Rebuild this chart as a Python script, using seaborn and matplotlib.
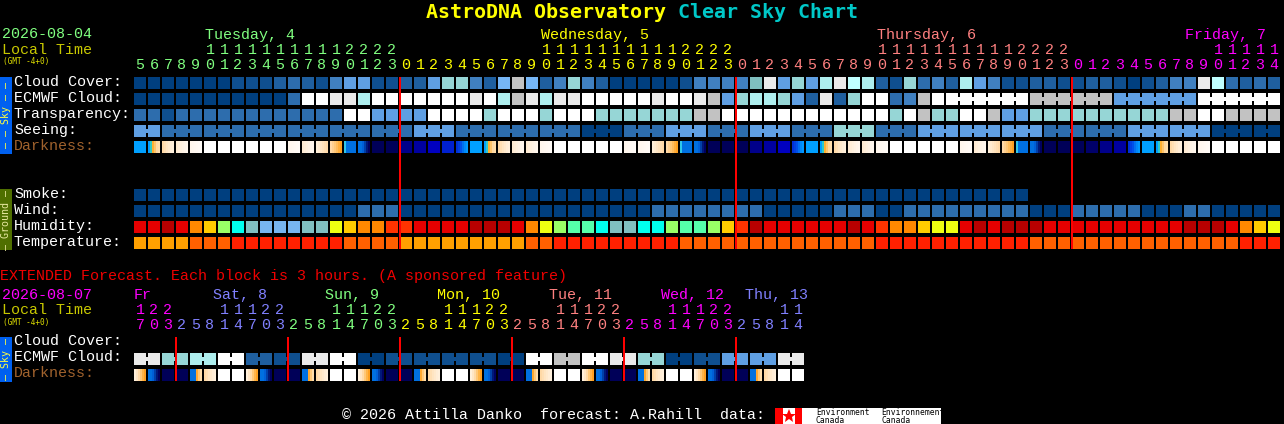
import numpy as np
import matplotlib
matplotlib.use('Agg')
import matplotlib.pyplot as plt
import seaborn as sns
from matplotlib.colors import ListedColormap
from matplotlib.patches import Rectangle

W, H = 1284, 424
FONT = 'Liberation Mono'
TITLE_FONT = 'DejaVu Sans Mono'

# sky levels, navy = clear ... white = overcast, last one grey
LEVELS = ['#003F7F', '#0F4F8F', '#1F5F9F', '#2D6DAD', '#4080C0', '#5F9FE3', '#76B6F6',
          '#7FBFBF', '#96D6D6', '#AEEEEE', '#BFFFFF', '#EAEAEA', '#FFFFFF', '#C2C2C2']
HUMID = {'D': '#B80000', 'E': '#E60000', 'R': '#FF3300', 'O': '#FF8800', 'A': '#FFCC00',
         'Y': '#EEFF11', 'G': '#99FF66', 'M': '#55FFAA', 'C': '#00FFEE', 'T': '#80C0C0', 'L': '#77B5F0'}
TEMP = {'A': '#FFA000', 'O': '#FF6000', 'R': '#FF2000'}
DARK = {
    'a': ['#00A0FF'] * 6,
    'b': ['#00A0FF', '#30C8C8', '#FFB030', '#FFC46A', '#FFD8A0', '#FFDDAA'],
    'c': ['#FFD9A6', '#FFDFB4', '#FFE5C2', '#FFE9CC', '#FFEDD6', '#FFF0DC'],
    'd': ['#FFEBD2', '#FFEED9', '#FFF1DF', '#FFF3E5', '#FFF5EA', '#FFF7EE'],
    'e': ['#FFF6EC', '#FFF7EF', '#FFF8F1', '#FFF9F3', '#FFFAF5', '#FFFBF7'],
    'W': ['#FFFFFF'] * 6,
    'f': ['#FFEFD9', '#FFEBD0', '#FFE6C6', '#FFE2BC', '#FFDDB2', '#FFD9A8'],
    'g': ['#FFD9A8', '#FFD090', '#FFC878', '#FFBC5C', '#FFAE3C', '#FFA020'],
    'h': ['#30C8E8', '#0070E0', '#0070E0', '#0070E0', '#0070E0', '#0070E0'],
    'i': ['#0070E0', '#0070E0', '#0060D8', '#0040A8', '#001878', '#000060'],
    'j': ['#000058'] * 6,
    'k': ['#00006A'] * 6,
    'l': ['#00008A'] * 6,
    'm': ['#0000A0'] * 6,
    'n': ['#0000C0'] * 6,
    'o': ['#0020D0'] * 6,
    'p': ['#0030D8', '#0040E0', '#0050E8', '#0070F0', '#0088F8', '#0098FF'],
    's': ['#FFF0DC', '#FFE6C6', '#FFDAA8', '#FFC878', '#FFB448', '#FFA020'],
    'u': ['#0070E0', '#0070E0', '#0070E0', '#FFA830', '#FFC878', '#FFDDAA'],
}

# hourly rows
cloud_cover = [0, 0, 0, 0, 0, 0, 0, 1, 1, 1, 2, 3, 2, 1, 4, 5, 5, 1, 1, 2, 2,
               5, 8, 8, 4, 2, 6, 13, 6, 2, 4, 8, 4, 2, 0, 0, 0, 0, 0, 1, 4, 4, 4,
               4, 7, 11, 5, 8, 5, 9, 11, 10, 9, 2, 1, 8, 3, 4, 2, 9, 5, 4, 1, 1, 2, 2, 1,
               1, 2, 2, 1, 0, 1, 2, 4, 4, 11, 10, 3, 2, 3, 2]
ecmwf_cloud = [0, 0, 0, 0, 0, 0, 0, 0, 0, 0, 0, 3, 12, 12, 11, 11, 9, 12, 12, 12, 12,
               12, 12, 12, 11, 12, 9, 13, 11, 9, 11, 11, 12, 12, 12, 12, 12, 11, 12, 12, 11, 13, 5,
               8, 9, 9, 8, 5, 2, 11, 2, 8, 12, 12, 3, 4, 13, 12,
               12, 12, 12, 12, 12, 12, 13, 13, 13, 13, 13, 13, 5, 5, 5, 5, 5, 5, 12, 12, 12, 12, 12, 12]
transparency = [3, 3, 1, 3, 3, 3, 3, 3, 3, 3, 3, 3, 3, 3, 3, 12, 12, 5, 5, 5, 5,
                12, 12, 12, 12, 8, 12, 12, 12, 8, 12, 12, 12, 8, 8, 8, 8, 8, 8, 8, 13, 13, 12,
                12, 12, 12, 12, 12, 12, 12, 12, 12, 12, 12, 8, 12, 13, 8, 8, 12, 12, 13, 5, 5,
                8, 8, 8, 8, 8, 8, 8, 8, 8, 8, 13, 13, 12, 12, 13, 13, 13, 13]
seeing = [5, 5, 3, 3, 3, 3, 3, 3, 3, 3, 3, 3, 3, 3, 3, 3, 3, 3, 3, 3,
          5, 5, 5, 3, 3, 3, 3, 3, 3, 3, 3, 3, 0, 0, 0, 3, 3, 3, 5, 5, 5, 3, 3, 3,
          5, 5, 5, 3, 3, 3, 8, 8, 8, 3, 3, 3, 5, 5, 5, 5, 5, 5, 5, 5, 5, 3, 3, 3,
          3, 3, 3, 5, 5, 5, 5, 5, 5, 0, 0, 0, 0, 0]
darkness = list('abcdeWWWWWWedfghijjlmnop'
                'abcddeWWWWWeefghijjjlmnp'
                'abcddeWWWWWedfghijjjklmp'
                'abcdeWWWWW')
smoke = [0] * 64 + [None] * 18
wind = [0, 0, 0, 0, 0, 0, 0, 0, 0, 0, 0, 0, 0, 0, 0, 0, 3, 3, 3, 0, 0,
        0, 0, 0, 0, 0, 0, 0, 0, 0, 0, 0, 0, 0, 0, 0, 0, 3, 3, 3, 3, 3, 3,
        3, 3, 0, 0, 0, 0, 0, 3, 3, 3, 0, 0, 3, 3, 3, 3, 3, 3, 3, 3, 3, 0, 0, 0,
        3, 3, 3, 3, 3, 0, 0, 0, 3, 3, 0, 0, 0, 0, 0]
humidity = list('EEDEOAGCTLLLTTYAOORRE'
                'EEEDDDEOYGMMCTTCCGMMGA'
                'RDEEEEEED'
                'EROOAYYEDEDDD'
                'EEEEEEEEEEDDDEOAY')
temperature = list('AAAAOOORRRRRRRROOOOAA'
                   'AAAAAAAOORRRRRRRRROOOO'
                   'OOOOOOOOOO'
                   'RRRRRRRRRRR'
                   'OOOOOOOOOOOOOOO'
                   'RRR')

# 3 hour rows
ext_ecmwf = [11, 11, 8, 8, 9, 9, 12, 12, 2, 2, 1, 1, 11, 11, 12, 12, 0, 0, 1, 1, 1, 1, 1, 1,
             1, 1, 0, 0, 12, 12, 13, 13, 12, 12, 11, 11, 8, 8, 0, 0, 1, 1, 5, 5, 5, 5, 11, 11]
ext_darkness = list('sijjucWW' * 6)

# column labels
hour_ones = '5678901234567890123' + '012345678901234567890123' * 2 + '012345678901234'
hour_tens = '     1111111111' + '2222' + ('          1111111111' + '2222') * 2 + '          11111'
day_names = ['Tuesday, 4', 'Wednesday, 5', 'Thursday, 6', 'Friday, 7']
day_x = [205, 541, 877, 1185]
day_start_col = [0, 19, 43, 67]
ext_ones = '703' + '25814703' * 5 + '25814'
ext_tens = '122' + '   11122' * 5 + '   11'
ext_names = ['Fr', 'Sat, 8', 'Sun, 9', 'Mon, 10', 'Tue, 11', 'Wed, 12', 'Thu, 13']
ext_x = [134, 213, 325, 437, 549, 661, 745]
ext_start_col = [0, 3, 11, 19, 27, 35, 43]
midnight_cols = [19, 43, 67]
ext_midnight_cols = [3, 11, 19, 27, 35, 43]

main_day_colors = ['#80FF80', '#FFFF00', '#FF8080', '#FF00FF']
ext_day_colors = ['#FF00FF', '#8080FF', '#80FF80', '#FFFF00', '#FF8080', '#FF00FF', '#8080FF']

for s in [cloud_cover, ecmwf_cloud, transparency, seeing, darkness, smoke, wind, humidity, temperature]:
    assert len(s) == 82, len(s)
assert len(ext_ecmwf) == 48 and len(ext_darkness) == 48

palette = []


def code(color):
    if color not in palette:
        palette.append(color)
    return palette.index(color)


# one heatmap cell = 2px, one block = 6 cells + 1 gap, one row = 6 cells + 2 gap
def paint(grid, row, colors, groups=None):
    top = row * 8
    for i, c in enumerate(colors):
        if c is None:
            continue
        strip = c if isinstance(c, list) else [c] * 6
        for k in range(6):
            grid[top:top + 6, i * 7 + k] = code(strip[k])
        if groups is not None and i + 1 < len(colors) and groups[i] == groups[i + 1]:
            grid[top + 2:top + 4, i * 7 + 6] = code(strip[5])


def group_ids(sizes):
    out = []
    for n, s in enumerate(sizes):
        out += [n] * s
    return out


sky = np.full((40, 82 * 7), np.nan)
paint(sky, 0, [LEVELS[v] for v in cloud_cover])
paint(sky, 1, [LEVELS[v] for v in ecmwf_cloud], group_ids([1] * 58 + [6, 6, 6, 6]))
paint(sky, 2, [LEVELS[v] for v in transparency])
paint(sky, 3, [LEVELS[v] for v in seeing], group_ids([2] + [3] * 26 + [2]))
paint(sky, 4, [DARK[v] for v in darkness])

ground = np.full((32, 82 * 7), np.nan)
paint(ground, 0, [None if v is None else LEVELS[v] for v in smoke])
paint(ground, 1, [LEVELS[v] for v in wind])
paint(ground, 2, [HUMID[v] for v in humidity])
paint(ground, 3, [TEMP[v] for v in temperature])

ext = np.full((24, 48 * 7), np.nan)
paint(ext, 1, [LEVELS[v] for v in ext_ecmwf], group_ids([2] * 24))
paint(ext, 2, [DARK[v] for v in ext_darkness])

cmap = ListedColormap(palette)
fig = plt.figure(figsize=(W / 100, H / 100), dpi=100, facecolor='black')


def panel(grid, left, top):
    h, w = grid.shape
    ax = fig.add_axes([left / W, 1 - (top + h * 2) / H, w * 2 / W, h * 2 / H], facecolor='black')
    sns.heatmap(grid, cmap=cmap, vmin=-0.5, vmax=len(palette) - 0.5, cbar=False,
                xticklabels=False, yticklabels=False, ax=ax)
    return ax


panel(sky, 134, 77)
panel(ground, 134, 189)
panel(ext, 134, 337)

# pixel overlay for the text, sidebars and day lines
ov = fig.add_axes([0, 0, 1, 1], facecolor='none', zorder=5)
ov.set_xlim(0, W)
ov.set_ylim(H, 0)
ov.axis('off')


def txt(x, y, s, color='white', size=10.8, family=FONT, **kw):
    # Liberation sits about a pixel lower than the reference font
    dy = 0.8 if family == FONT else 0
    ov.text(x, y - dy, s, color=color, fontsize=size, family=family, va='baseline', ha=kw.pop('ha', 'left'), **kw)


def rect(x, y, w, h, color):
    ov.add_patch(Rectangle((x, y), w, h, facecolor=color, edgecolor='none', snap=False))


txt(426, 18, 'AstroDNA Observatory', '#FFFF00', 14.4, family=TITLE_FONT, fontweight='bold')
txt(678, 18, 'Clear Sky Chart', '#00C8C8', 14.4, family=TITLE_FONT, fontweight='bold')

txt(2, 39, '2026-08-04', '#80FF80')
txt(2, 55, 'Local Time', '#C8C800')
txt(3, 64, '(GMT -4+0)', '#E0E000', 5.6, family=TITLE_FONT)
for name, x, col in zip(day_names, day_x, main_day_colors):
    txt(x, 40, name, col)


def hour_labels(ones, tens, starts, colors, y_tens, y_ones):
    for i, (o, t) in enumerate(zip(ones, tens)):
        day = sum(1 for s in starts if s <= i) - 1
        x = 134 + 14 * i + 6
        txt(x, y_ones, o, colors[day], ha='center')
        if t != ' ':
            txt(x, y_tens, t, colors[day], ha='center')


hour_labels(hour_ones, hour_tens, day_start_col, main_day_colors, 55, 70)

for label, y, col in [('Cloud Cover:', 87, 'white'), ('ECMWF Cloud:', 103, 'white'),
                      ('Transparency:', 119, 'white'), ('Seeing:', 135, 'white'),
                      ('Darkness:', 151, '#A0622D'), ('Smoke:', 199, 'white'),
                      ('Wind:', 215, 'white'), ('Humidity:', 231, 'white'),
                      ('Temperature:', 247, 'white')]:
    txt(14, y, label, col)

txt(0, 281, 'EXTENDED Forecast. Each block is 3 hours. (A sponsored feature)', '#F00000')
txt(2, 300, '2026-08-07', '#FF00FF')
txt(2, 315, 'Local Time', '#C8C800')
txt(3, 325, '(GMT -4+0)', '#E0E000', 5.6, family=TITLE_FONT)
for name, x, col in zip(ext_names, ext_x, ext_day_colors):
    txt(x, 300, name, col)
hour_labels(ext_ones, ext_tens, ext_start_col, ext_day_colors, 315, 330)
for label, y, col in [('Cloud Cover:', 346, 'white'), ('ECMWF Cloud:', 362, 'white'),
                      ('Darkness:', 378, '#A0622D')]:
    txt(14, y, label, col)

# sidebars
rect(0, 77, 12, 77, '#0060F0')
rect(0, 189, 12, 61, '#4F6F00')
rect(0, 337, 12, 45, '#0060F0')
for y, s, col in [(115.5, '\u2013 \u2013 Sky \u2013 \u2013', '#FFFF40'), (219.5, '\u2013 Ground \u2013', '#E8E8A0'),
                  (359.5, '\u2013 Sky \u2013', '#FFFF40')]:
    ov.text(6, y, s, color=col, fontsize=7.2, family=TITLE_FONT, rotation=90, ha='center', va='center')

# day boundaries
for c in midnight_cols:
    rect(134 + 14 * c - 1, 77, 2, 172, '#FF0000')
for c in ext_midnight_cols:
    rect(134 + 14 * c - 1, 337, 2, 44, '#FF0000')

# footer
txt(342, 420, '\u00a9 2026 Attilla Danko  forecast: A.Rahill  data:')
rect(775, 408, 166, 16, 'white')
rect(775, 408, 8, 16, '#FF0000')
rect(795, 408, 7, 16, '#FF0000')
ov.plot([789], [416], marker='*', ms=10, color='#FF0000', mew=0)
txt(816, 415, 'Environment', 'black', 5.8, family=TITLE_FONT)
txt(816, 423, 'Canada', 'black', 5.8, family=TITLE_FONT)
txt(881, 415, 'Environnement', 'black', 5.8, family=TITLE_FONT)
txt(881, 423, 'Canada', 'black', 5.8, family=TITLE_FONT)

fig.savefig('out.png', dpi=100, facecolor='black')
